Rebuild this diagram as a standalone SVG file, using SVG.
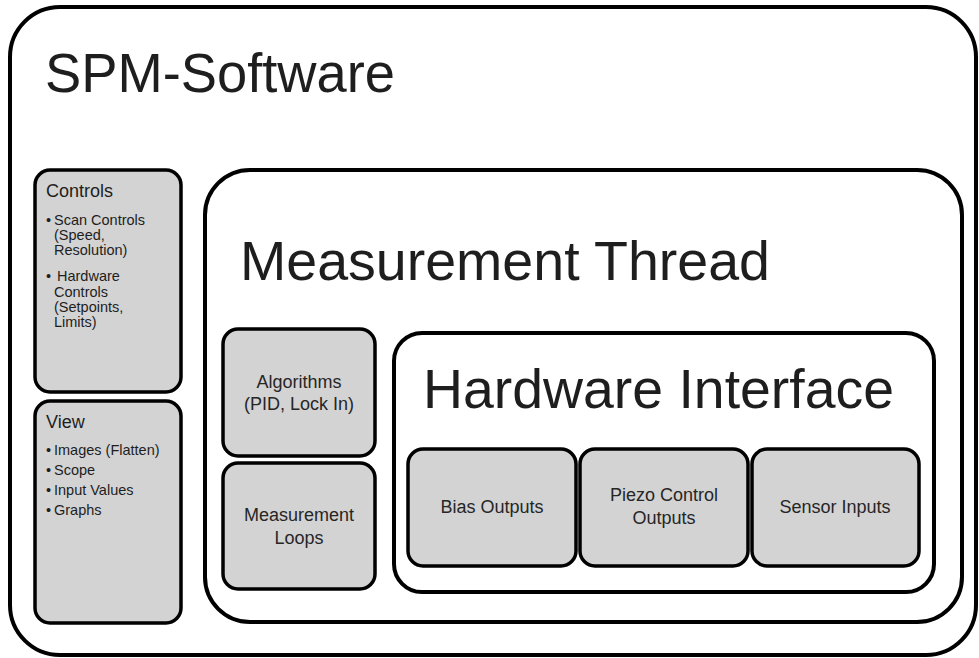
<svg xmlns="http://www.w3.org/2000/svg" width="979" height="658" viewBox="0 0 979 658">
  <style>
    .frame { fill: #ffffff; stroke: #000000; stroke-width: 4; }
    .box { fill: #d3d3d3; stroke: #000000; stroke-width: 3.5; }
    text { font-family: "Liberation Sans", Arial, sans-serif; fill: #1e1e1e; }
    .title { font-size: 56px; }
    .head { font-size: 18px; }
    .item { font-size: 14.5px; }
    .label { font-size: 18px; text-anchor: middle; fill: #262626; }
  </style>

  <!-- SPM-Software container -->
  <g id="spm-software">
    <rect class="frame" x="10" y="7" width="966" height="648" rx="50" ry="50"/>
    <text class="title" x="45" y="92" font-size="58" textLength="350" lengthAdjust="spacingAndGlyphs">SPM-Software</text>
  </g>

  <!-- Controls panel -->
  <g id="controls">
    <rect class="box" x="35" y="170" width="146" height="222" rx="15" ry="15"/>
    <text class="head" x="46" y="197">Controls</text>
    <text class="item" x="46" y="225">•</text>
    <text class="item" x="54" y="225">Scan Controls</text>
    <text class="item" x="54" y="240">(Speed,</text>
    <text class="item" x="54" y="255">Resolution)</text>
    <text class="item" x="46" y="281">•</text>
    <text class="item" x="57" y="281">Hardware</text>
    <text class="item" x="54" y="297">Controls</text>
    <text class="item" x="54" y="312">(Setpoints,</text>
    <text class="item" x="54" y="327">Limits)</text>
  </g>

  <!-- View panel -->
  <g id="view">
    <rect class="box" x="35" y="401" width="146" height="222" rx="15" ry="15"/>
    <text class="head" x="46" y="428">View</text>
    <text class="item" x="46" y="455">•</text>
    <text class="item" x="54" y="455">Images (Flatten)</text>
    <text class="item" x="46" y="475">•</text>
    <text class="item" x="54" y="475">Scope</text>
    <text class="item" x="46" y="495">•</text>
    <text class="item" x="54" y="495">Input Values</text>
    <text class="item" x="46" y="515">•</text>
    <text class="item" x="54" y="515">Graphs</text>
  </g>

  <!-- Measurement Thread container -->
  <g id="measurement-thread">
    <rect class="frame" x="205" y="170" width="757" height="452" rx="45" ry="45"/>
    <text class="title" x="240" y="280" font-size="56" textLength="530" lengthAdjust="spacingAndGlyphs">Measurement Thread</text>
  </g>

  <g id="algorithms">
    <rect class="box" x="223" y="329" width="152" height="127" rx="15" ry="15"/>
    <text class="label" x="299" y="388">Algorithms</text>
    <text class="label" x="299" y="410">(PID, Lock In)</text>
  </g>

  <g id="measurement-loops">
    <rect class="box" x="223" y="463" width="152" height="126" rx="15" ry="15"/>
    <text class="label" x="299" y="521">Measurement</text>
    <text class="label" x="299" y="544">Loops</text>
  </g>

  <!-- Hardware Interface container -->
  <g id="hardware-interface">
    <rect class="frame" x="394" y="333" width="540" height="259" rx="28" ry="28"/>
    <text class="title" x="423" y="408" font-size="50" textLength="471" lengthAdjust="spacingAndGlyphs">Hardware Interface</text>
  </g>

  <g id="bias-outputs">
    <rect class="box" x="408" y="449" width="168" height="117" rx="15" ry="15"/>
    <text class="label" x="492" y="513">Bias Outputs</text>
  </g>

  <g id="piezo-control-outputs">
    <rect class="box" x="580" y="449" width="168" height="117" rx="15" ry="15"/>
    <text class="label" x="664" y="501">Piezo Control</text>
    <text class="label" x="664" y="524">Outputs</text>
  </g>

  <g id="sensor-inputs">
    <rect class="box" x="752" y="449" width="167" height="117" rx="15" ry="15"/>
    <text class="label" x="835" y="513">Sensor Inputs</text>
  </g>

  <!-- no connectors in this diagram -->
  <g id="connectors"/>
</svg>
